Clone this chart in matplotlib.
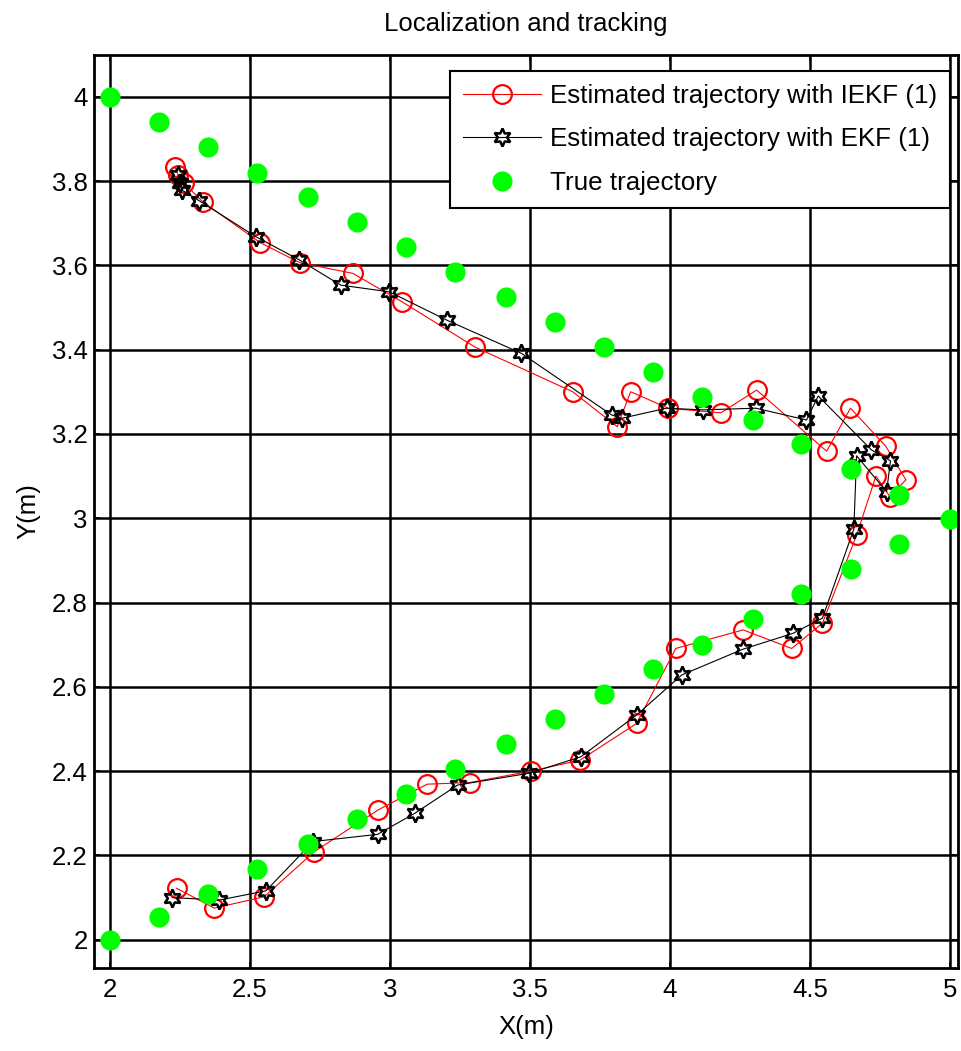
import matplotlib
matplotlib.use("Agg")
import matplotlib.pyplot as plt

# estimated trajectory, IEKF (red circles)
iekf_x = [2.238, 2.373, 2.551, 2.730, 2.958, 3.133, 3.286, 3.504, 3.679, 3.881,
          4.021, 4.262, 4.435, 4.545, 4.667, 4.736, 4.786, 4.843, 4.771, 4.645,
          4.560, 4.310, 4.182, 3.994, 3.860, 3.812, 3.653, 3.304, 3.042, 2.867,
          2.679, 2.536, 2.331, 2.264, 2.244, 2.232]
iekf_y = [2.122, 2.075, 2.102, 2.209, 2.308, 2.369, 2.373, 2.400, 2.426, 2.513,
          2.691, 2.735, 2.691, 2.751, 2.960, 3.100, 3.051, 3.091, 3.171, 3.261,
          3.159, 3.304, 3.250, 3.261, 3.300, 3.217, 3.300, 3.406, 3.514, 3.581,
          3.606, 3.654, 3.751, 3.795, 3.814, 3.833]

# estimated trajectory, EKF (black hexagrams)
ekf_x = [2.223, 2.390, 2.557, 2.726, 2.956, 3.089, 3.242, 3.498, 3.682, 3.881,
         4.042, 4.260, 4.440, 4.545, 4.657, 4.667, 4.774, 4.788, 4.720, 4.530,
         4.488, 4.307, 4.117, 3.988, 3.828, 3.792, 3.470, 3.203, 2.998, 2.824,
         2.676, 2.521, 2.319, 2.256, 2.252, 2.244]
ekf_y = [2.100, 2.094, 2.116, 2.233, 2.250, 2.300, 2.367, 2.395, 2.434, 2.533,
         2.628, 2.689, 2.727, 2.763, 2.974, 3.148, 3.063, 3.136, 3.162, 3.290,
         3.233, 3.261, 3.257, 3.261, 3.237, 3.245, 3.391, 3.470, 3.537, 3.553,
         3.613, 3.668, 3.753, 3.779, 3.795, 3.814]

# true trajectory (green dots)
true_x = [2.0, 2.175, 2.35, 2.525, 2.708, 2.883, 3.057, 3.233, 3.414, 3.589,
          3.764, 3.939, 4.113, 4.298, 4.47, 4.646, 4.82, 5.0,
          4.82, 4.646, 4.47, 4.298, 4.113, 3.939, 3.764, 3.589, 3.414, 3.233,
          3.057, 2.883, 2.708, 2.525, 2.35, 2.175, 2.0]
true_y = [2.0, 2.054, 2.108, 2.167, 2.227, 2.286, 2.346, 2.405, 2.464, 2.523,
          2.582, 2.642, 2.700, 2.760, 2.820, 2.879, 2.938, 2.997,
          3.055, 3.116, 3.175, 3.233, 3.288, 3.346, 3.405, 3.465, 3.524, 3.583,
          3.643, 3.702, 3.762, 3.820, 3.880, 3.939, 4.0]

x_ticks = [2, 2.5, 3, 3.5, 4, 4.5, 5]
x_tick_labels = ["2", "2.5", "3", "3.5", "4", "4.5", "5"]
y_ticks = [2, 2.2, 2.4, 2.6, 2.8, 3, 3.2, 3.4, 3.6, 3.8, 4]
y_tick_labels = ["2", "2.2", "2.4", "2.6", "2.8", "3", "3.2", "3.4", "3.6", "3.8", "4"]

plt.rcParams["font.family"] = ["Liberation Sans", "DejaVu Sans"]

fig = plt.figure(figsize=(9.62, 10.51), dpi=100)
ax = fig.add_axes([0.0977, 0.0790, 0.8981, 0.8687])

ax.plot(iekf_x, iekf_y, color="red", linewidth=0.8, marker="o", markersize=13.5,
        markerfacecolor="none", markeredgecolor="red", markeredgewidth=1.6,
        label="Estimated trajectory with IEKF (1)")
ax.plot(ekf_x, ekf_y, color="black", linewidth=0.8, marker=(6, 1, 0), markersize=13,
        markerfacecolor="none", markeredgecolor="black", markeredgewidth=1.8,
        label="Estimated trajectory with EKF (1)")
ax.plot(true_x, true_y, linestyle="none", marker="o", markersize=14.5,
        color="#00ff00", markeredgecolor="none", label="True trajectory")

ax.set_xlim(1.943, 5.029)
ax.set_ylim(1.933, 4.099)
ax.set_xticks(x_ticks)
ax.set_xticklabels(x_tick_labels)
ax.set_yticks(y_ticks)
ax.set_yticklabels(y_tick_labels)

ax.grid(True, color="black", linewidth=1.8, linestyle="-")
ax.set_axisbelow(True)
for sp in ax.spines.values():
    sp.set_linewidth(2.0)

ax.tick_params(direction="in", length=4.5, width=1.2, top=True, right=True, labelsize=18.5)
ax.tick_params(axis="x", pad=7)
ax.tick_params(axis="y", pad=4.5)

ax.set_title("Localization and tracking", fontsize=18.5, pad=17.5)
ax.set_xlabel("X(m)", fontsize=18.5, labelpad=9.5)
ax.set_ylabel("Y(m)", fontsize=18.5, labelpad=8)

leg = ax.legend(loc="upper right", bbox_to_anchor=(0.9907, 0.9825), borderaxespad=0,
                fontsize=18.7, handlelength=3.0, handletextpad=0.35, labelspacing=0.75,
                borderpad=0.5, fancybox=False, framealpha=1, edgecolor="black",
                numpoints=1)
leg.get_frame().set_linewidth(1.5)

fig.savefig("out.png", dpi=100)
